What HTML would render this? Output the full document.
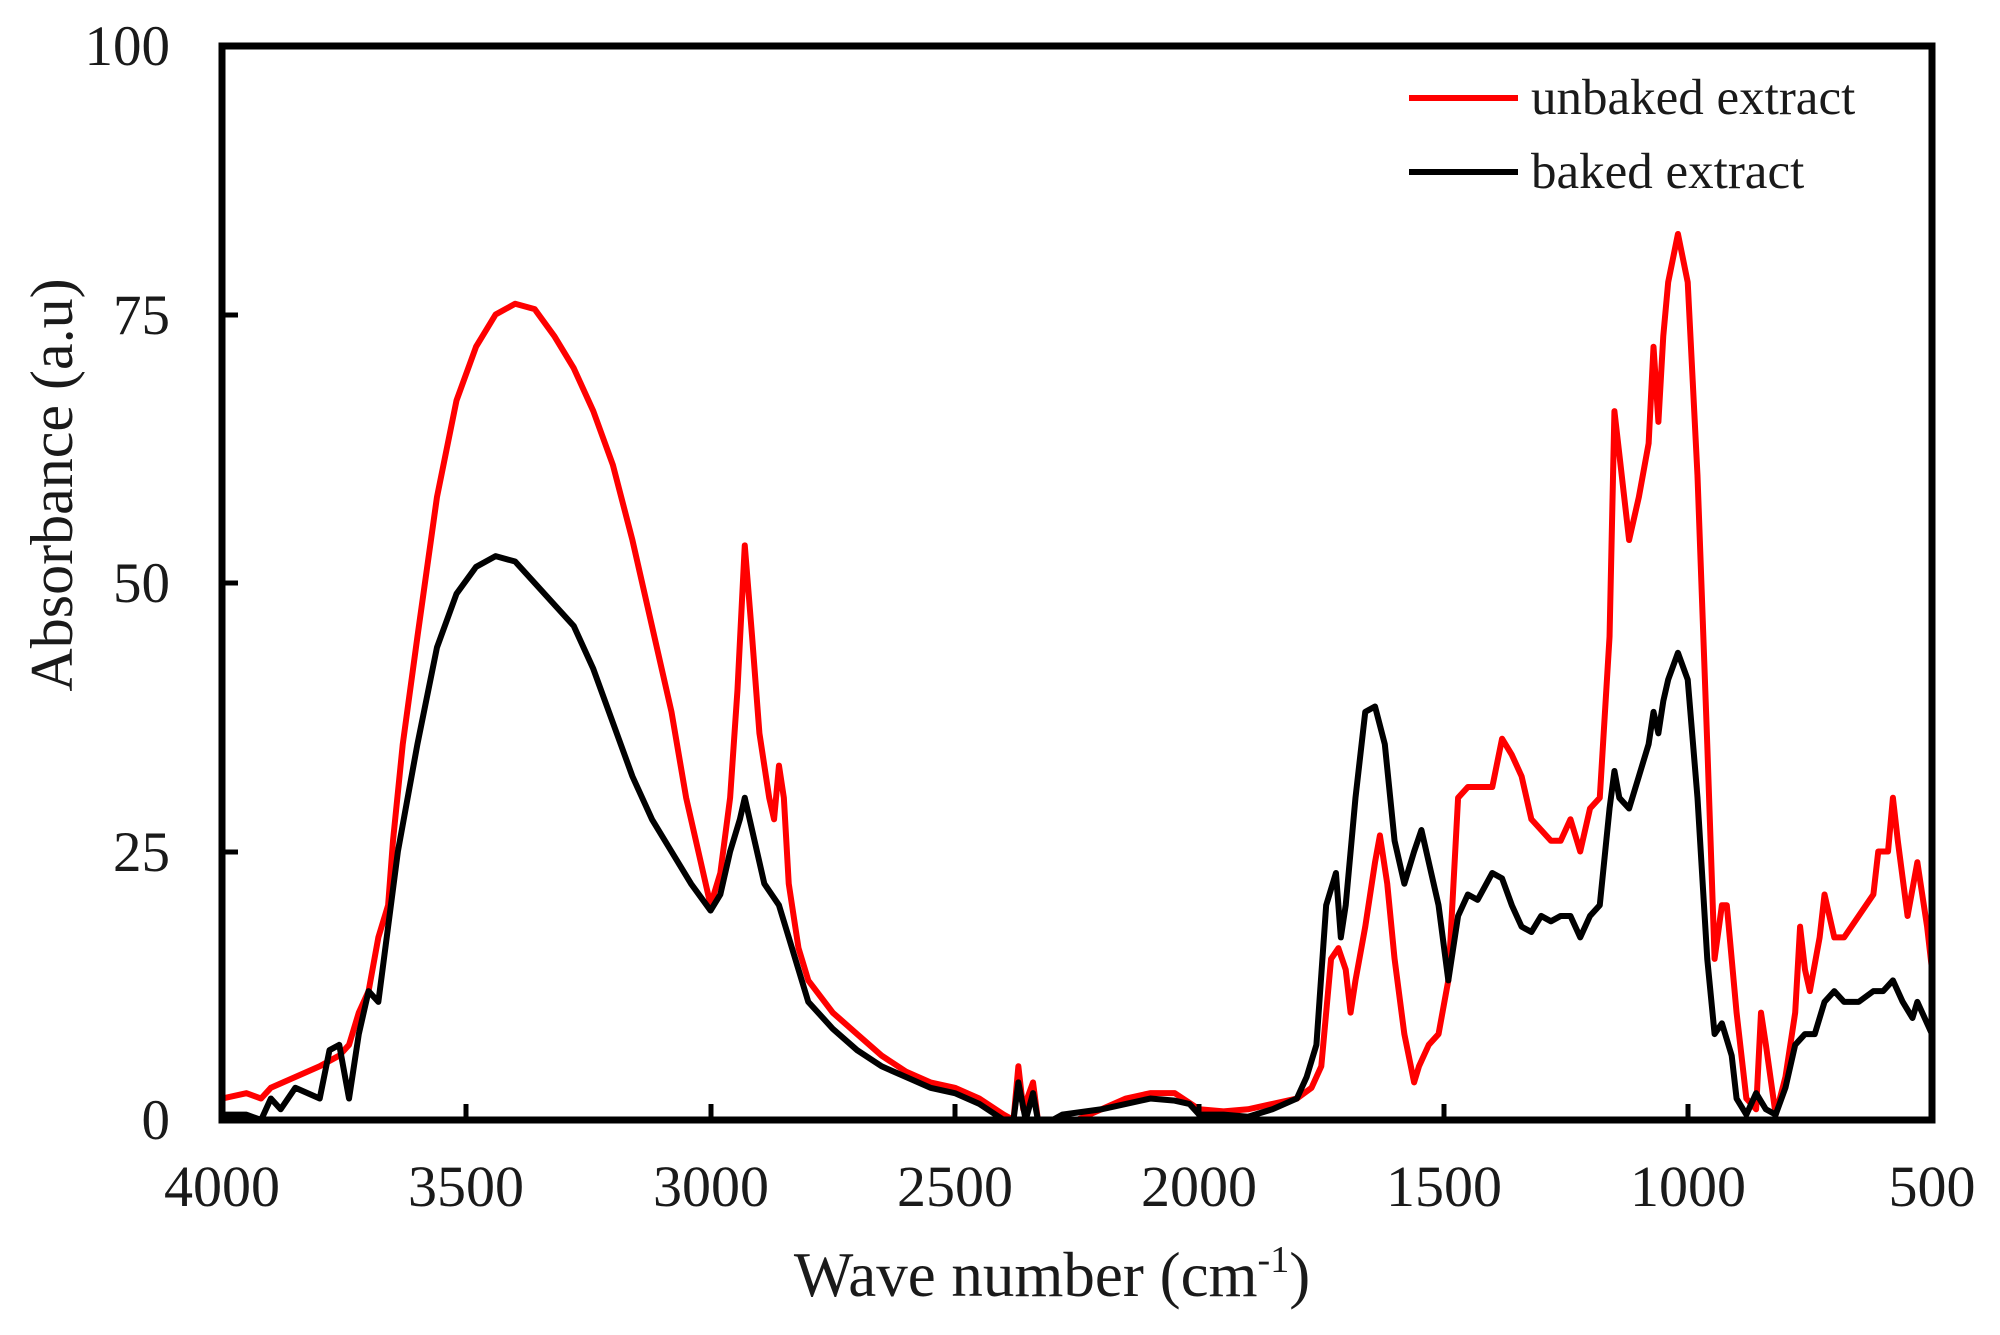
<!DOCTYPE html>
<html><head><meta charset="utf-8"><style>
html,body{margin:0;padding:0;background:#fff}
svg{display:block}
text{font-family:"Liberation Serif",serif;fill:#1a1a1a}
</style></head><body>
<svg width="2000" height="1335" viewBox="0 0 2000 1335" xmlns="http://www.w3.org/2000/svg">
<rect width="2000" height="1335" fill="#fff"/>
<svg x="222" y="46" width="1710" height="1074" viewBox="0 0 3500 100" preserveAspectRatio="none" overflow="hidden">
<g transform="translate(4000,100) scale(-1,-1)" fill="none" stroke-linejoin="round">
<polyline vector-effect="non-scaling-stroke" stroke="#f00" stroke-width="6" points="4000,2 3950,2.5 3920,2 3900,3 3850,4 3800,5 3760,6 3740,7 3720,10 3700,12 3680,17 3660,20 3650,26 3630,35 3600,45 3560,58 3520,67 3480,72 3440,75 3400,76 3360,75.5 3320,73 3280,70 3240,66 3200,61 3160,54 3120,46 3080,38 3050,30 3020,24 3000,20 2980,23 2960,30 2945,40 2930,53.5 2915,45 2900,36 2880,30 2870,28 2860,33 2850,30 2840,22 2820,16 2800,13 2750,10 2700,8 2650,6 2600,4.5 2550,3.5 2500,3 2450,2 2400,0.5 2380,0 2370,5 2360,1 2340,3.5 2330,0 2300,0 2250,0 2200,1 2150,2 2100,2.5 2050,2.5 2000,1 1950,0.8 1900,1 1850,1.5 1800,2 1770,3 1750,5 1730,15 1715,16 1700,14 1690,10 1680,13 1660,18 1640,24 1630,26.5 1615,22 1600,15 1580,8 1560,3.5 1550,5 1530,7 1510,8 1490,13 1470,30 1450,31 1420,31 1400,31 1380,35.5 1360,34 1340,32 1320,28 1300,27 1280,26 1260,26 1240,28 1220,25 1200,29 1180,30 1160,45 1150,66 1140,62 1120,54 1100,58 1080,63 1070,72 1060,65 1050,73 1040,78 1020,82.5 1000,78 980,60 960,35 945,15 930,20 920,20 900,10 880,2 860,1 850,10 840,7 820,0.5 800,4 780,10 770,18 760,14 750,12 730,17 720,21 700,17 680,17 650,19 620,21 610,25 590,25 580,30 570,26 550,19 530,24 510,18 500,14"/>
<polyline vector-effect="non-scaling-stroke" stroke="#000" stroke-width="6" points="4000,0.5 3950,0.5 3920,0 3900,2 3880,1 3850,3 3800,2 3780,6.5 3760,7 3740,2 3720,8 3700,12 3680,11 3660,18 3640,25 3600,35 3560,44 3520,49 3480,51.5 3440,52.5 3400,52 3360,50 3320,48 3280,46 3240,42 3200,37 3160,32 3120,28 3080,25 3040,22 3000,19.5 2980,21 2960,25 2940,28 2930,30 2910,26 2890,22 2860,20 2840,17 2820,14 2800,11 2750,8.5 2700,6.5 2650,5 2600,4 2550,3 2500,2.5 2450,1.5 2400,0 2380,0 2370,3.5 2355,0 2340,2.5 2330,0 2300,0 2280,0.5 2200,1 2150,1.5 2100,2 2050,1.8 2020,1.5 2000,0.5 1950,0.5 1900,0.3 1850,1 1800,2 1780,4 1760,7 1740,20 1720,23 1710,17 1700,20 1680,30 1660,38 1640,38.5 1620,35 1600,26 1580,22 1560,25 1545,27 1530,24 1510,20 1490,13 1470,19 1450,21 1430,20.5 1400,23 1380,22.5 1360,20 1340,18 1320,17.5 1300,19 1280,18.5 1260,19 1240,19 1220,17 1200,19 1180,20 1160,29 1150,32.5 1140,30 1120,29 1100,32 1080,35 1070,38 1060,36 1050,39 1040,41 1020,43.5 1000,41 980,30 960,15 945,8 930,9 910,6 900,2 880,0.5 860,2.5 840,1 820,0.5 800,3 780,7 760,8 740,8 720,11 700,12 680,11 650,11 620,12 600,12 580,13 560,11 540,9.5 530,11 510,9 500,8"/>
</g>
</svg>
<g stroke="#000" stroke-width="5">
<line x1="466" y1="1120" x2="466" y2="1104"/>
<line x1="711" y1="1120" x2="711" y2="1104"/>
<line x1="955" y1="1120" x2="955" y2="1104"/>
<line x1="1199" y1="1120" x2="1199" y2="1104"/>
<line x1="1444" y1="1120" x2="1444" y2="1104"/>
<line x1="1688" y1="1120" x2="1688" y2="1104"/>
<line x1="222" y1="852" x2="238" y2="852"/>
<line x1="222" y1="583" x2="238" y2="583"/>
<line x1="222" y1="315" x2="238" y2="315"/>
</g>
<rect x="222" y="46" width="1710" height="1074" fill="none" stroke="#000" stroke-width="7"/>
<g font-size="57" text-anchor="end">
<text x="170" y="1139">0</text>
<text x="170" y="871">25</text>
<text x="170" y="602">50</text>
<text x="170" y="334">75</text>
<text x="170" y="65">100</text>
</g>
<g font-size="58" text-anchor="middle">
<text x="222" y="1206">4000</text>
<text x="466" y="1206">3500</text>
<text x="711" y="1206">3000</text>
<text x="955" y="1206">2500</text>
<text x="1199" y="1206">2000</text>
<text x="1444" y="1206">1500</text>
<text x="1688" y="1206">1000</text>
<text x="1932" y="1206">500</text>
</g>
<text x="1052" y="1296" font-size="63" text-anchor="middle">Wave number (cm<tspan font-size="38" dy="-24">-1</tspan><tspan dy="24">)</tspan></text>
<text transform="translate(72,485) rotate(-90)" font-size="60" text-anchor="middle">Absorbance (a.u)</text>
<line x1="1409" y1="98" x2="1518" y2="98" stroke="#f00" stroke-width="6"/>
<line x1="1409" y1="172" x2="1518" y2="172" stroke="#000" stroke-width="6"/>
<text x="1531" y="114" font-size="51">unbaked extract</text>
<text x="1531" y="188" font-size="51">baked extract</text>
</svg>
</body></html>
